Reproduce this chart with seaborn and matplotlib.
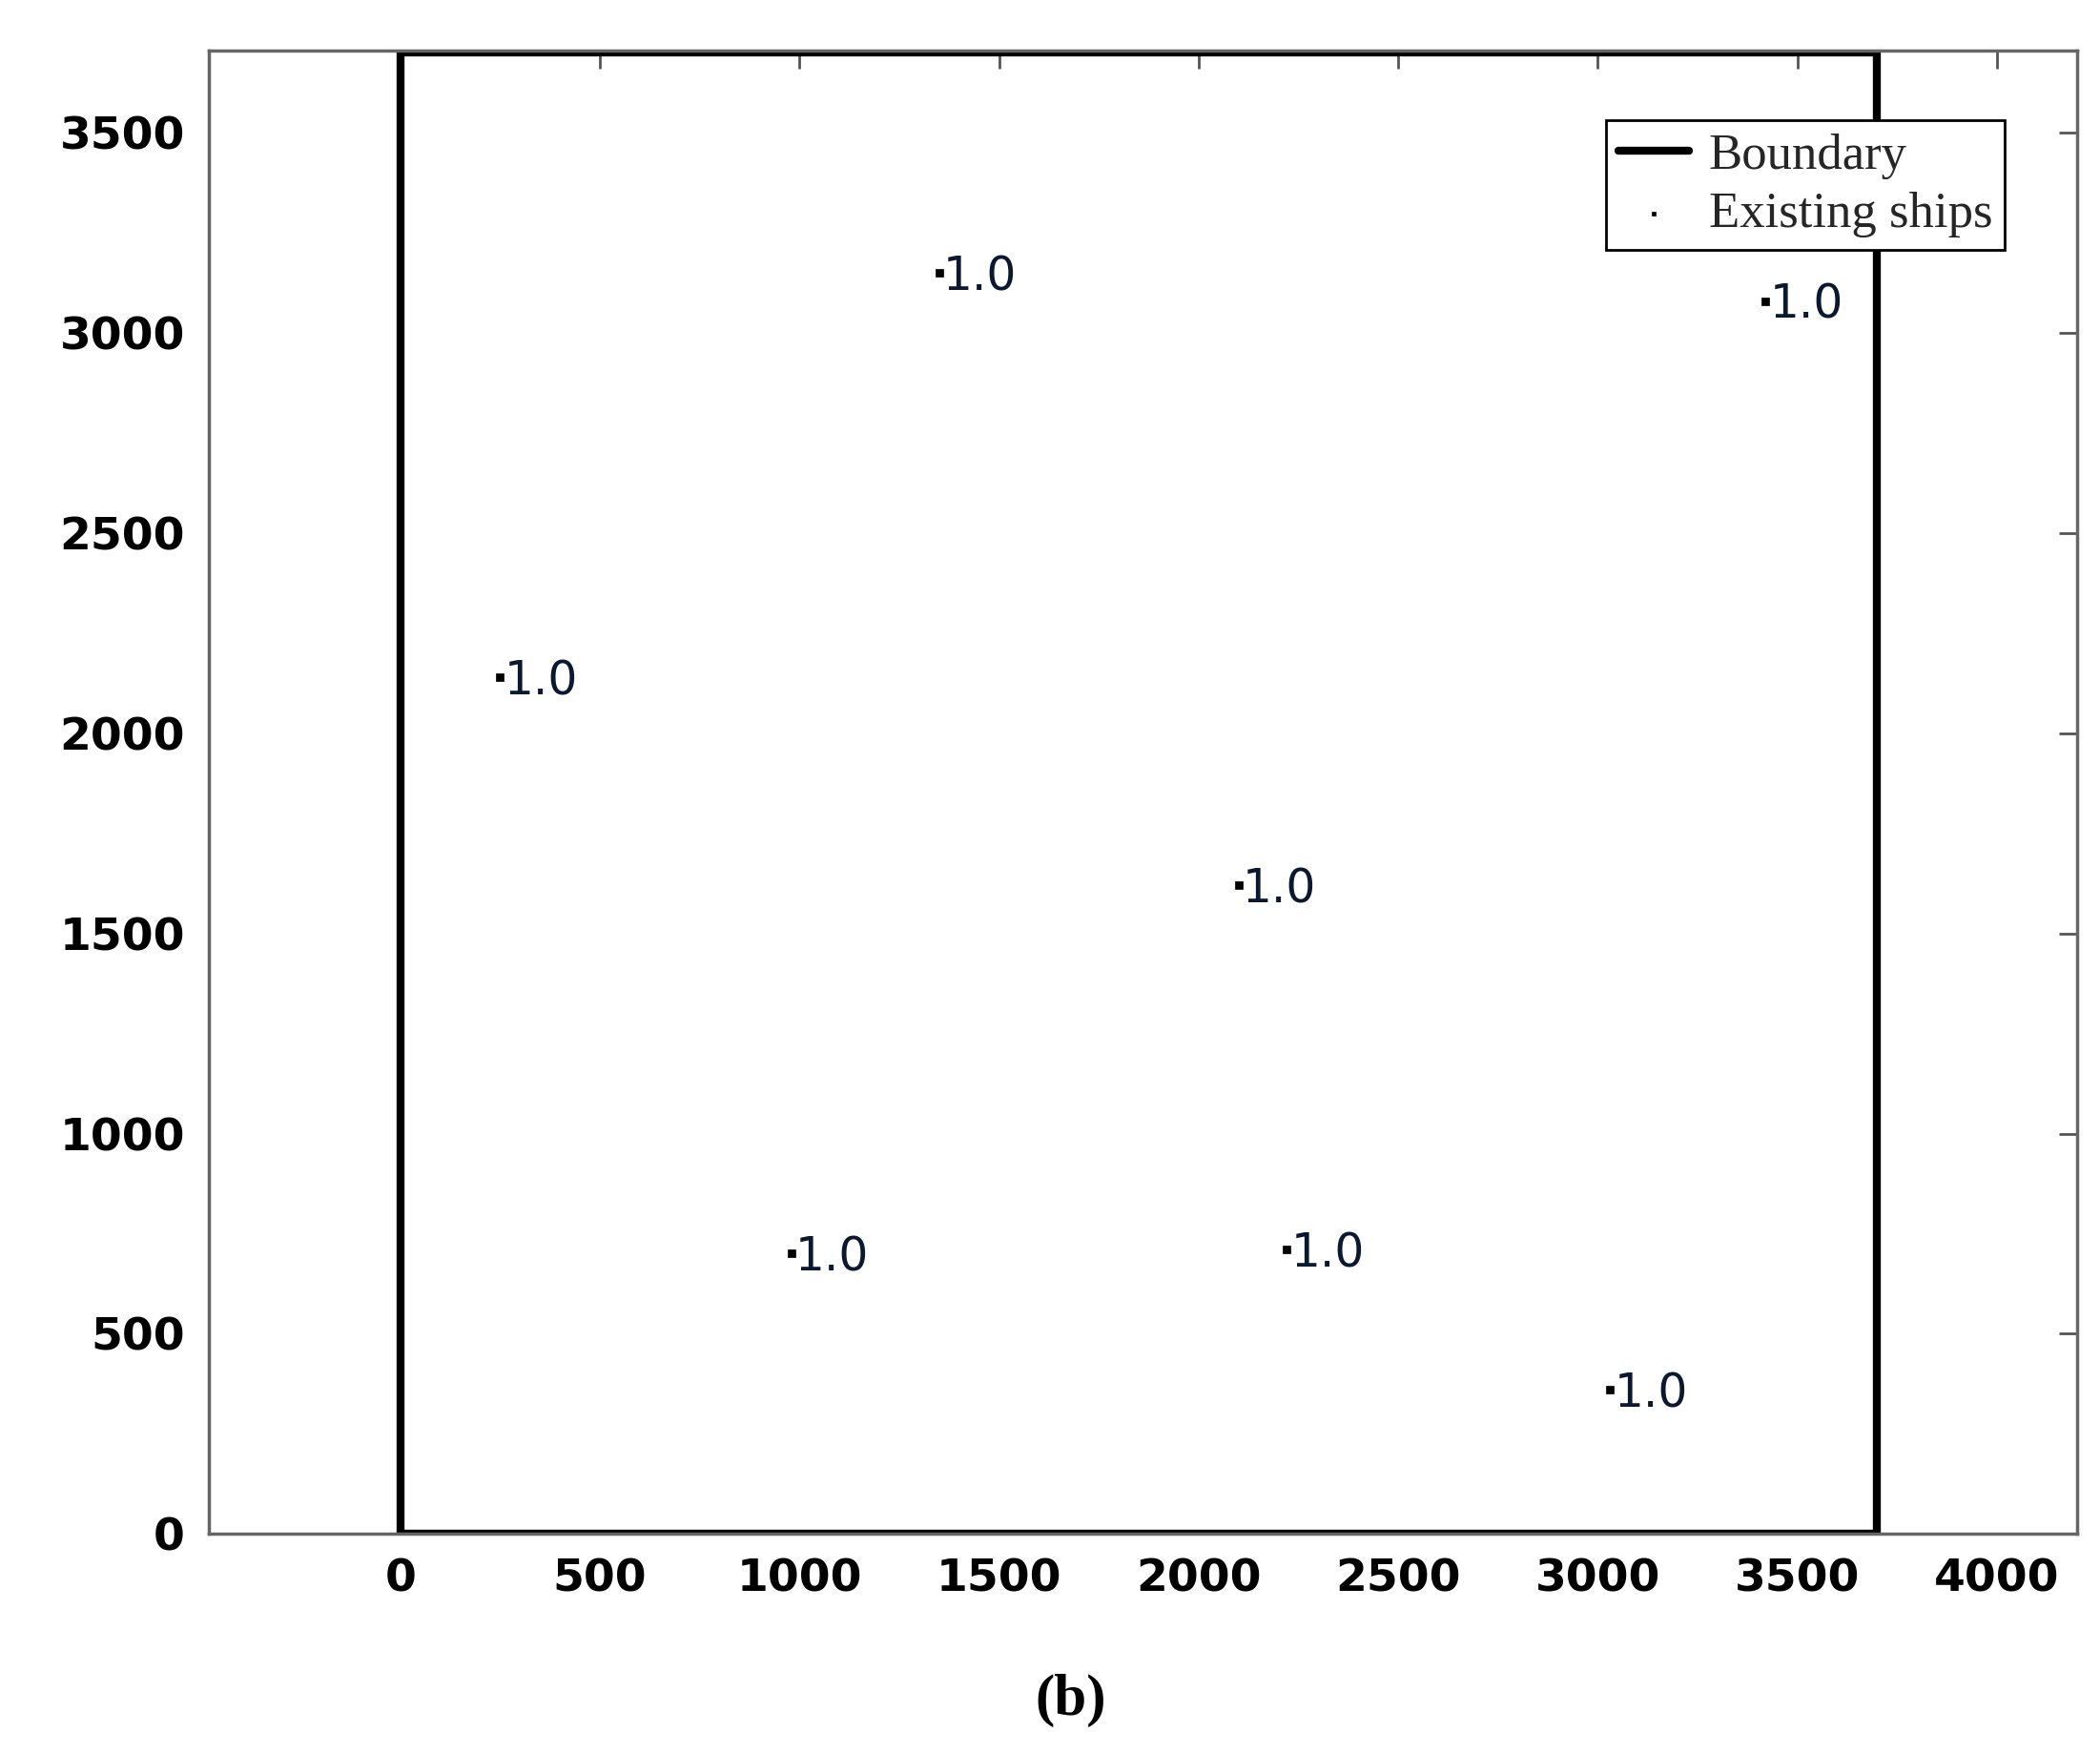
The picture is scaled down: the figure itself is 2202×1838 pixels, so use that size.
import matplotlib
matplotlib.use("Agg")
import matplotlib.pyplot as plt
import seaborn as sns
import pandas as pd

ship_x = [1350, 3420, 250, 2100, 980, 2220, 3030]
ship_y = [3150, 3080, 2140, 1620, 700, 710, 360]
ship_labels = ["1.0"] * 7
boundary_x = [0, 0, 3700, 3700, 0]
boundary_y = [0, 3700, 3700, 0, 0]
xticks = [0, 500, 1000, 1500, 2000, 2500, 3000, 3500, 4000]
yticks = [0, 500, 1000, 1500, 2000, 2500, 3000, 3500]

sns.set_style("white")
fig = plt.figure(figsize=(22.02, 18.38), dpi=100)
ax = fig.add_axes([0.0994, 0.125, 0.8896, 0.846])

sns.lineplot(x=boundary_x, y=boundary_y, sort=False, color="black", lw=6, ax=ax,
             label="Boundary", estimator=None)
df = pd.DataFrame({"x": ship_x, "y": ship_y})
sns.scatterplot(data=df, x="x", y="y", color="black", s=40, marker="s", ax=ax,
                label="Existing ships", edgecolor="black")
for x, y, t in zip(ship_x, ship_y, ship_labels):
    ax.text(x + 10, y - 10, t, fontsize=35, color="#0a1830", va="center", ha="left",
            family="DejaVu Sans")

ax.set_xlim(-480, 4200)
ax.set_ylim(0, 3705)
ax.set_xticks(xticks)
ax.set_yticks(yticks)
ax.set_xlabel("")
ax.set_ylabel("")
for lab in ax.get_xticklabels() + ax.get_yticklabels():
    lab.set_fontweight("bold")
    lab.set_fontsize(34)
    lab.set_color("black")
    lab.set_family("DejaVu Sans")
ax.tick_params(direction="in", length=14, width=2, color="#555555", top=True, right=True,
               pad=18)
for s in ax.spines.values():
    s.set_color("#666666")
    s.set_linewidth(2.5)

leg = ax.legend(loc="upper right", bbox_to_anchor=(0.975, 0.97), fancybox=False,
                edgecolor="black", prop={"family": "Liberation Serif", "size": 38},
                handlelength=1.4, handletextpad=0.4, markerscale=0.5,
                borderpad=0.25, labelspacing=0.25, framealpha=1)
leg.get_frame().set_linewidth(2)

fig.text(0.51, 0.022, "(b)", fontsize=44, fontweight="bold", family="Liberation Serif",
         ha="center", color="black")
fig.savefig("out.png", dpi=100)
